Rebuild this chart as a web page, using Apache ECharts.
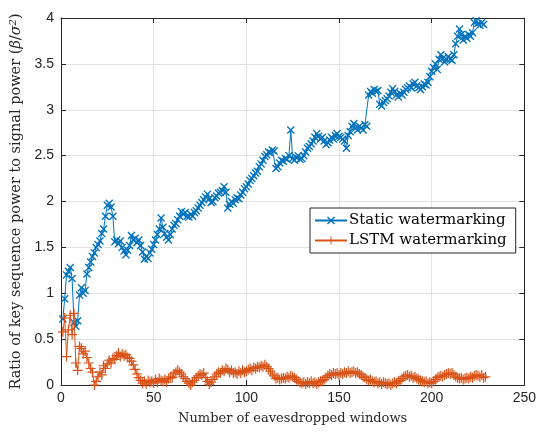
<!DOCTYPE html>
<html>
<head>
<meta charset="utf-8">
<script src="https://cdn.jsdelivr.net/npm/echarts@6/dist/echarts.min.js"></script>
<style>html,body{margin:0;padding:0;background:#fff;}#c{width:539px;height:432px;}</style>
</head>
<body>
<div id="c"></div>
<script>
var staticWM = [
0.72,0.94,1.20,1.24,1.28,1.16,0.68,0.64,0.70,0.98,
1.06,1.00,1.03,1.21,1.28,1.34,1.40,1.44,1.50,1.53,
1.57,1.65,1.70,1.84,1.96,1.98,1.94,1.84,1.56,1.58,
1.54,1.57,1.50,1.46,1.42,1.47,1.52,1.63,1.58,1.60,
1.55,1.58,1.52,1.45,1.37,1.40,1.38,1.44,1.48,1.53,
1.58,1.64,1.70,1.82,1.72,1.65,1.61,1.58,1.64,1.70,
1.74,1.76,1.80,1.84,1.89,1.86,1.88,1.84,1.83,1.86,
1.84,1.88,1.90,1.93,1.96,1.99,2.02,2.05,2.08,2.03,
1.99,2.00,2.04,2.06,2.09,2.10,2.12,2.16,2.10,1.93,
1.97,2.00,1.98,2.02,2.04,2.03,2.07,2.10,2.14,2.16,
2.19,2.23,2.25,2.28,2.31,2.33,2.38,2.41,2.45,2.49,
2.51,2.54,2.53,2.56,2.55,2.36,2.38,2.42,2.45,2.44,
2.47,2.46,2.50,2.78,2.47,2.45,2.48,2.50,2.46,2.47,
2.50,2.54,2.58,2.60,2.63,2.66,2.70,2.74,2.71,2.68,
2.70,2.66,2.62,2.64,2.67,2.70,2.68,2.72,2.74,2.71,
2.70,2.68,2.66,2.58,2.72,2.76,2.82,2.85,2.80,2.78,
2.82,2.80,2.78,2.84,2.82,3.16,3.20,3.18,3.22,3.20,
3.21,3.06,3.04,3.08,3.10,3.12,3.15,3.19,3.23,3.20,
3.16,3.14,3.18,3.16,3.19,3.22,3.24,3.26,3.24,3.28,
3.30,3.26,3.24,3.22,3.25,3.28,3.27,3.30,3.36,3.42,
3.46,3.50,3.44,3.55,3.60,3.56,3.52,3.55,3.58,3.55,
3.54,3.60,3.72,3.80,3.88,3.82,3.76,3.80,3.78,3.82,
3.80,3.84,3.95,3.97,3.94,3.92,3.95,3.93
];
var lstmWM = [
0.58,0.73,0.31,0.60,0.76,0.55,0.78,0.24,0.16,0.42,
0.40,0.34,0.37,0.30,0.24,0.18,0.14,0.00,0.04,0.09,
0.14,0.11,0.21,0.18,0.23,0.27,0.24,0.29,0.28,0.32,
0.35,0.31,0.34,0.32,0.33,0.30,0.29,0.26,0.22,0.17,
0.12,0.08,0.05,0.02,0.04,0.01,0.05,0.03,0.04,0.02,
0.06,0.03,0.07,0.05,0.04,0.06,0.03,0.07,0.09,0.08,
0.12,0.14,0.16,0.14,0.12,0.09,0.07,0.04,0.02,0.00,
0.03,0.05,0.08,0.10,0.12,0.11,0.13,0.08,0.04,0.01,
0.03,0.06,0.09,0.12,0.14,0.13,0.16,0.15,0.18,0.17,
0.14,0.16,0.13,0.14,0.12,0.15,0.13,0.16,0.14,0.15,
0.17,0.18,0.16,0.19,0.18,0.20,0.19,0.21,0.20,0.22,
0.20,0.18,0.15,0.12,0.10,0.07,0.08,0.06,0.07,0.08,
0.07,0.09,0.08,0.10,0.09,0.08,0.06,0.04,0.03,0.02,
0.03,0.01,0.03,0.02,0.04,0.02,0.03,0.01,0.03,0.04,
0.05,0.06,0.08,0.10,0.12,0.11,0.13,0.12,0.13,0.11,
0.13,0.12,0.14,0.13,0.15,0.13,0.14,0.15,0.13,0.14,
0.12,0.11,0.09,0.08,0.06,0.05,0.06,0.04,0.03,0.04,
0.02,0.03,0.01,0.03,0.02,0.01,0.02,0.00,0.02,0.03,
0.02,0.04,0.05,0.07,0.09,0.10,0.11,0.09,0.10,0.08,
0.09,0.07,0.06,0.05,0.04,0.03,0.04,0.02,0.03,0.02,
0.04,0.06,0.08,0.09,0.10,0.09,0.11,0.12,0.13,0.12,
0.13,0.11,0.09,0.08,0.07,0.08,0.06,0.07,0.08,0.07,
0.09,0.08,0.10,0.11,0.10,0.09,0.11,0.08,0.09
];
var seriesNames = ['Static watermarking', 'LSTM watermarking'];
var xTicks = [0, 50, 100, 150, 200, 250];
var yTicks = [0, 0.5, 1, 1.5, 2, 2.5, 3, 3.5, 4];

function pairs(arr) {
  var out = [];
  for (var i = 0; i < arr.length; i++) out.push([i + 1, arr[i]]);
  return out;
}

var xShape = 'path://M0,1.2L1.2,0L5,3.8L8.8,0L10,1.2L6.2,5L10,8.8L8.8,10L5,6.2L1.2,10L0,8.8L3.8,5Z';
var plusShape = 'path://M4.4,0H5.6V4.4H10V5.6H5.6V10H4.4V5.6H0V4.4H4.4Z';
var axisCol = '#262626';
var tickFont = {color: axisCol, fontFamily: 'Liberation Sans', fontSize: 14};
var serif = 'DejaVu Serif';

var chart = echarts.init(document.getElementById('c'), null, {renderer: 'canvas'});
chart.setOption({
  animation: false,
  backgroundColor: '#fff',
  grid: {left: 61, right: 10, top: 18, bottom: 47, containLabel: false},
  legend: {
    left: 310, top: 208,
    orient: 'vertical',
    backgroundColor: '#fff',
    borderColor: axisCol, borderWidth: 1, borderRadius: 0,
    padding: [5, 9, 5, 4],
    itemGap: 5, itemWidth: 32, itemHeight: 10,
    textStyle: {fontFamily: serif, fontSize: 15, color: '#000', padding: [0, 0, 0, -3]},
    data: seriesNames
  },
  xAxis: [{
    type: 'value', min: xTicks[0], max: xTicks[xTicks.length - 1], interval: 50,
    name: 'Number of eavesdropped windows', nameLocation: 'middle', nameGap: 27,
    nameTextStyle: {fontFamily: serif, fontSize: 13, color: axisCol},
    axisLine: {show: true, onZero: false, lineStyle: {color: axisCol, width: 1}},
    axisTick: {show: true, inside: true, length: 5, lineStyle: {color: axisCol}},
    axisLabel: Object.assign({margin: 6}, tickFont),
    splitLine: {show: true, lineStyle: {color: '#e3e3e3', width: 1}}
  }, {
    type: 'value', position: 'top', min: xTicks[0], max: xTicks[xTicks.length - 1], interval: 50,
    axisLine: {show: true, onZero: false, lineStyle: {color: axisCol, width: 1}},
    axisTick: {show: true, inside: true, length: 5, lineStyle: {color: axisCol}},
    axisLabel: {show: false}, splitLine: {show: false}
  }],
  yAxis: [{
    type: 'value', min: yTicks[0], max: yTicks[yTicks.length - 1], interval: 0.5,
    name: 'Ratio of key sequence power to signal power ({i|β}/{i|σ}{s|2})',
    nameLocation: 'middle', nameGap: 35,
    nameTextStyle: {fontFamily: serif, fontSize: 14.5, color: axisCol,
      rich: {i: {fontFamily: serif, fontStyle: 'italic', fontSize: 14.5, color: axisCol},
             s: {fontFamily: serif, fontStyle: 'italic', fontSize: 10, color: axisCol, verticalAlign: 'top', padding: [0,0,6,0]}}},
    axisLine: {show: true, onZero: false, lineStyle: {color: axisCol, width: 1}},
    axisTick: {show: true, inside: true, length: 5, lineStyle: {color: axisCol}},
    axisLabel: Object.assign({margin: 7}, tickFont),
    splitLine: {show: true, lineStyle: {color: '#e3e3e3', width: 1}}
  }, {
    type: 'value', position: 'right', min: yTicks[0], max: yTicks[yTicks.length - 1], interval: 0.5,
    axisLine: {show: true, onZero: false, lineStyle: {color: axisCol, width: 1}},
    axisTick: {show: true, inside: true, length: 5, lineStyle: {color: axisCol}},
    axisLabel: {show: false}, splitLine: {show: false}
  }],
  series: [{
    name: seriesNames[0], type: 'line', data: pairs(staticWM),
    symbol: xShape, symbolSize: 8, showAllSymbol: true,
    lineStyle: {color: '#0072BD', width: 1},
    itemStyle: {color: '#0072BD'},
    z: 3
  }, {
    name: seriesNames[1], type: 'line', data: pairs(lstmWM),
    symbol: plusShape, symbolSize: 10, showAllSymbol: true,
    lineStyle: {color: '#D95319', width: 1},
    itemStyle: {color: '#D95319'},
    z: 4
  }]
});
</script>
</body>
</html>
